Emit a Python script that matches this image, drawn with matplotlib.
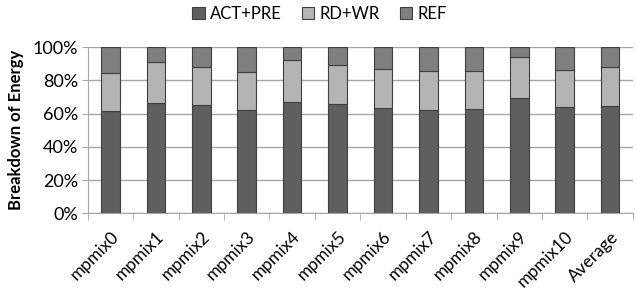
import matplotlib
matplotlib.use("Agg")
from matplotlib import pyplot as plt
from matplotlib import transforms
import numpy as np

plt.rcParams['font.family'] = ['Lato', 'DejaVu Sans']

# dados (percentuais)
categorias = ['mpmix0', 'mpmix1', 'mpmix2', 'mpmix3', 'mpmix4', 'mpmix5',
              'mpmix6', 'mpmix7', 'mpmix8', 'mpmix9', 'mpmix10', 'Average']
act_pre = [61.8, 66.7, 65.1, 62.2, 66.9, 65.7, 63.3, 62.2, 62.9, 69.5, 64.1, 64.7]
rd_wr = [22.5, 24.3, 22.9, 23.1, 25.1, 23.3, 23.8, 23.3, 22.6, 24.7, 22.2, 23.3]
ref = [100 - a - r for a, r in zip(act_pre, rd_wr)]

fig = plt.figure(figsize=(6.36, 2.95), dpi=100)
ax = fig.add_axes([0.138, 0.277, 0.857, 0.563])

x = np.arange(len(categorias))
w = 0.41
borda = '#3f3f3f'
ax.bar(x, act_pre, w, color='#5f5f5f', edgecolor=borda, linewidth=0.8, label='ACT+PRE', zorder=3)
ax.bar(x, rd_wr, w, bottom=act_pre, color='#b4b4b4', edgecolor=borda, linewidth=0.8, label='RD+WR', zorder=3)
base = [a + r for a, r in zip(act_pre, rd_wr)]
ax.bar(x, ref, w, bottom=base, color='#7f7f7f', edgecolor=borda, linewidth=0.8, label='REF', zorder=3)

ax.set_xlim(-0.5, len(categorias) - 0.5)
ax.set_ylim(0, 100)
ax.set_yticks(np.arange(0, 101, 20))
ax.set_yticklabels([f'{v}%' for v in range(0, 101, 20)], fontsize=13)
ax.yaxis.grid(True, color='#a6a6a6', linewidth=1, zorder=0)

ax.set_xticks(x)
ax.set_xticklabels(categorias, rotation=45, ha='right', va='top', rotation_mode='anchor', fontsize=12.5)
# deslocar rotulos um pouco para a direita
desloc = transforms.ScaledTranslation(4 / 100, 0, fig.dpi_scale_trans)
for t in ax.get_xticklabels():
    t.set_transform(t.get_transform() + desloc)
ax.set_xticks(np.arange(-0.5, len(categorias), 1), minor=True)
ax.tick_params(axis='x', which='major', length=0, pad=11)
ax.tick_params(axis='x', which='minor', length=5, color='#a6a6a6', direction='out')
ax.tick_params(axis='y', length=4, color='#a6a6a6', pad=3)

for s in ['top', 'right']:
    ax.spines[s].set_visible(False)
ax.spines['left'].set_color('#a6a6a6')
ax.spines['bottom'].set_color('#a6a6a6')

ax.set_ylabel('Breakdown of Energy', fontsize=12, fontweight='bold', labelpad=6)

ax.legend(loc='center', bbox_to_anchor=(0.425, 1.2), ncol=3, frameon=False,
          fontsize=12, handlelength=0.75, handleheight=0.75, handletextpad=0.3, columnspacing=1.2)

fig.savefig('out.png', dpi=100)
